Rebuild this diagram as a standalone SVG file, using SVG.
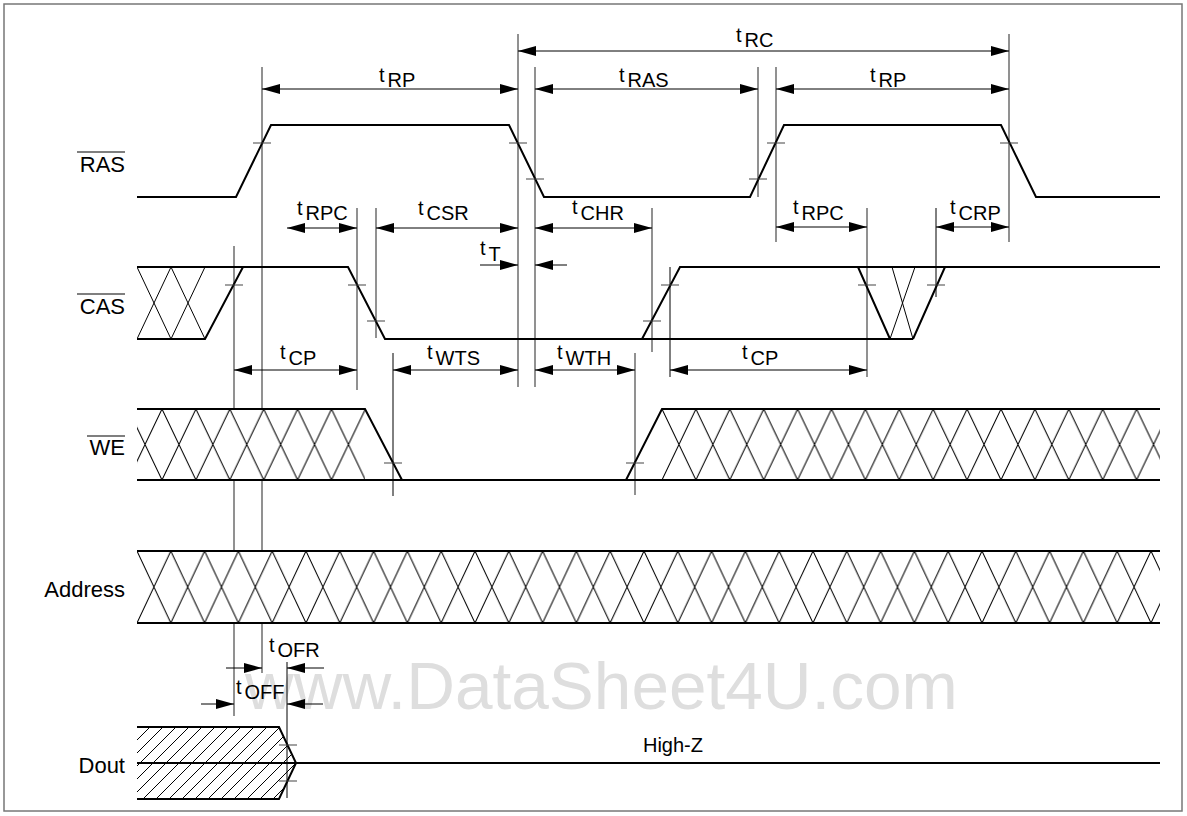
<svg xmlns="http://www.w3.org/2000/svg" width="1187" height="816" viewBox="0 0 1187 816">
<style>
.sig{fill:none;stroke:#000;stroke-width:2;stroke-linejoin:miter}
.thin{fill:none;stroke:#000;stroke-width:1}
.ext{fill:none;stroke:#6e6e6e;stroke-width:1.5}
.extb{fill:none;stroke:#000;stroke-width:1}
.tick{fill:none;stroke:#444;stroke-width:1.2}
.dim{fill:none;stroke:#000;stroke-width:1}
.lbl{font-family:"Liberation Sans",Arial,sans-serif;font-size:22px;fill:#000;text-anchor:end}
.tm{font-family:"Liberation Sans",Arial,sans-serif;font-size:20px;fill:#000}
.wm{font-family:"Liberation Sans",Arial,sans-serif;font-size:67.5px;fill:#dedede}
</style>
<defs>
<marker id="ah" markerUnits="userSpaceOnUse" markerWidth="18" markerHeight="10" refX="18" refY="5" orient="auto-start-reverse" viewBox="0 0 18 10">
<path d="M0,0 L18,5 L0,10 z" fill="#000"/>
</marker>
<pattern id="xA" patternUnits="userSpaceOnUse" x="137" y="551" width="33.8" height="72">
<path d="M-3.38,-7.2 L37.18,79.2 M-3.38,79.2 L37.18,-7.2" stroke="#000" stroke-width="1" fill="none"/>
</pattern>
<pattern id="xW1" patternUnits="userSpaceOnUse" x="162" y="409" width="33.9" height="71">
<path d="M-3.39,-7.1 L37.29,78.1 M-3.39,78.1 L37.29,-7.1" stroke="#000" stroke-width="1" fill="none"/>
</pattern>
<pattern id="xW2" patternUnits="userSpaceOnUse" x="662" y="409" width="33.9" height="71">
<path d="M-3.39,-7.1 L37.29,78.1 M-3.39,78.1 L37.29,-7.1" stroke="#000" stroke-width="1" fill="none"/>
</pattern>
<pattern id="xC" patternUnits="userSpaceOnUse" x="137" y="267" width="34" height="72">
<path d="M-3.4,-7.2 L37.4,79.2 M-3.4,79.2 L37.4,-7.2" stroke="#000" stroke-width="1" fill="none"/>
</pattern>
<pattern id="hd" patternUnits="userSpaceOnUse" x="137" y="727" width="13" height="13">
<path d="M-2,2 L2,-2 M0,13 L13,0 M11,15 L15,11" stroke="#000" stroke-width="1" fill="none"/>
</pattern>
<clipPath id="cDout"><path d="M137,727 L279,727 L296,763 L279,799 L137,799 z"/></clipPath>
</defs>

<rect x="4" y="4" width="1178" height="807" fill="#fff" stroke="#777" stroke-width="1.5"/>

<text class="wm" x="245" y="709">www.DataSheet4U.com</text>

<g id="extension-lines">
<path class="ext" d="M262,67 V673 M234,246 V716 M518,34 V387 M535,67 V387 M758,67 V197 M776,67 V242 M1009,34 V242 M357,208 V390 M376,208 V338 M652,208 V352 M867,208 V377 M635,353 V495"/>
<path class="extb" d="M393,353 V496 M670,267 V377 M936,208 V297 M287,662 V798"/>
</g>

<g id="RAS">
<text class="lbl" x="125" y="172">RAS</text>
<line x1="77" y1="152" x2="125" y2="152" stroke="#000" stroke-width="1.2"/>
<path class="sig" d="M137,197 H236 L271,125 H509 L544,197 H750 L784,125 H1001 L1036,197 H1160"/>
<path class="tick" d="M253,143 h18 M509,143 h18 M526,179 h18 M749,179 h18 M767,143 h18 M1000,143 h18"/>
</g>

<g id="CAS">
<text class="lbl" x="125" y="314">CAS</text>
<line x1="77" y1="294" x2="125" y2="294" stroke="#000" stroke-width="1.2"/>
<rect x="137" y="267" width="68" height="72" fill="url(#xC)"/>
<path class="sig" d="M137,267 H348 L385,339 H913 M137,339 H205 L243,267"/>
<path class="sig" d="M642,339 L680,267 H1160 M858,267 L890,339 M913,339 L945,267"/>
<path class="thin" d="M892,267 L913,339 M890,339 L915,267"/>
<path class="tick" d="M225,285 h18 M348,285 h18 M367,321 h18 M643,321 h18 M661,285 h18 M858,285 h18 M927,285 h18"/>
</g>

<g id="WE">
<text class="lbl" x="125" y="455">WE</text>
<line x1="87" y1="436" x2="125" y2="436" stroke="#000" stroke-width="1.2"/>
<rect x="137" y="409" width="228" height="71" fill="#fff"/>
<rect x="137" y="409" width="228" height="71" fill="url(#xW1)"/>
<rect x="662" y="409" width="498" height="71" fill="#fff"/>
<rect x="662" y="409" width="498" height="71" fill="url(#xW2)"/>
<path class="sig" d="M137,409 H365 L402,480 M137,480 H1160 M626,480 L662,409 H1160"/>
<path class="tick" d="M384,463 h18 M626,463 h18"/>
</g>

<g id="Address">
<text class="lbl" x="125" y="597">Address</text>
<rect x="137" y="551" width="1023" height="72" fill="#fff"/>
<rect x="137" y="551" width="1023" height="72" fill="url(#xA)"/>
<path class="sig" d="M137,551 H1160 M137,623 H1160"/>
</g>

<g id="Dout">
<text class="lbl" x="125" y="773">Dout</text>
<rect x="137" y="727" width="160" height="72" fill="url(#hd)" clip-path="url(#cDout)"/>
<path class="sig" d="M137,727 H279 L296,763 L279,799 H137 M137,763 H1160"/>
<path class="tick" d="M279,745 h18 M279,781 h18"/>
<text class="tm" x="673" y="752" text-anchor="middle">High-Z</text>
</g>

<g id="connectors">
<path class="dim" marker-start="url(#ah)" marker-end="url(#ah)" d="M518,51 H1009"/>
<path class="dim" marker-start="url(#ah)" marker-end="url(#ah)" d="M262,89 H518"/>
<path class="dim" marker-start="url(#ah)" marker-end="url(#ah)" d="M535,89 H758"/>
<path class="dim" marker-start="url(#ah)" marker-end="url(#ah)" d="M776,89 H1009"/>
<path class="dim" marker-start="url(#ah)" marker-end="url(#ah)" d="M287,228 H357"/>
<path class="dim" marker-start="url(#ah)" marker-end="url(#ah)" d="M376,228 H518"/>
<path class="dim" marker-start="url(#ah)" marker-end="url(#ah)" d="M535,228 H652"/>
<path class="dim" marker-start="url(#ah)" marker-end="url(#ah)" d="M776,227 H867"/>
<path class="dim" marker-start="url(#ah)" marker-end="url(#ah)" d="M936,227 H1009"/>
<path class="dim" marker-end="url(#ah)" d="M480,265 H518"/>
<path class="dim" marker-end="url(#ah)" d="M567,265 H535"/>
<path class="dim" marker-start="url(#ah)" marker-end="url(#ah)" d="M234,370 H357"/>
<path class="dim" marker-start="url(#ah)" marker-end="url(#ah)" d="M393,370 H518"/>
<path class="dim" marker-start="url(#ah)" marker-end="url(#ah)" d="M535,370 H635"/>
<path class="dim" marker-start="url(#ah)" marker-end="url(#ah)" d="M670,370 H867"/>
<path class="dim" marker-end="url(#ah)" d="M226,668 H262"/>
<path class="dim" marker-end="url(#ah)" d="M324,668 H287"/>
<path class="dim" marker-end="url(#ah)" d="M201,704 H234"/>
<path class="dim" marker-end="url(#ah)" d="M323,704 H287"/>
</g>

<g id="timing-labels">
<text class="tm" x="736" y="42">t<tspan dx="3" dy="5">RC</tspan></text>
<text class="tm" x="379" y="82">t<tspan dx="3" dy="5">RP</tspan></text>
<text class="tm" x="619" y="82">t<tspan dx="3" dy="5">RAS</tspan></text>
<text class="tm" x="870" y="82">t<tspan dx="3" dy="5">RP</tspan></text>
<text class="tm" x="297" y="215">t<tspan dx="3" dy="5">RPC</tspan></text>
<text class="tm" x="418" y="215">t<tspan dx="3" dy="5">CSR</tspan></text>
<text class="tm" x="480" y="255">t<tspan dx="3" dy="6">T</tspan></text>
<text class="tm" x="572" y="214">t<tspan dx="3" dy="6">CHR</tspan></text>
<text class="tm" x="793" y="214">t<tspan dx="3" dy="6">RPC</tspan></text>
<text class="tm" x="950" y="214">t<tspan dx="3" dy="6">CRP</tspan></text>
<text class="tm" x="280" y="359">t<tspan dx="3" dy="6">CP</tspan></text>
<text class="tm" x="427" y="359">t<tspan dx="3" dy="6">WTS</tspan></text>
<text class="tm" x="557" y="359">t<tspan dx="3" dy="6">WTH</tspan></text>
<text class="tm" x="742" y="359">t<tspan dx="3" dy="6">CP</tspan></text>
<text class="tm" x="269" y="652">t<tspan dx="3" dy="5">OFR</tspan></text>
<text class="tm" x="236" y="694">t<tspan dx="3" dy="5">OFF</tspan></text>
</g>
</svg>
